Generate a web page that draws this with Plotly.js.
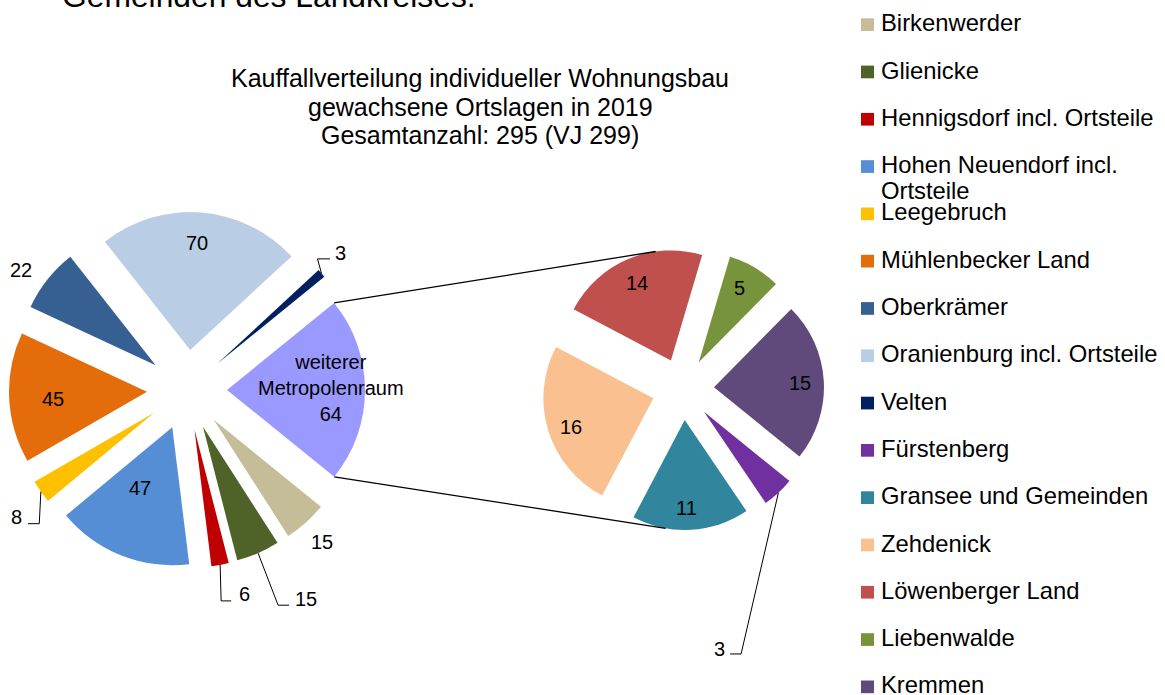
<!DOCTYPE html>
<html>
<head>
<meta charset="utf-8">
<script src="https://cdn.plot.ly/plotly-3.0.1.min.js"></script>
<style>html,body{margin:0;padding:0;background:#fff;}#chart{width:1165px;height:695px;}</style>
</head>
<body>
<div id="chart"></div>
<script>
// ---------------- data ----------------
const mainLabels = ["Birkenwerder", "Glienicke", "Hennigsdorf incl. Ortsteile", "Hohen Neuendorf incl. Ortsteile",
  "Leegebruch", "Mühlenbecker Land", "Oberkrämer", "Oranienburg incl. Ortsteile", "Velten", "weiterer Metropolenraum"];
const mainValues = [15, 15, 6, 47, 8, 45, 22, 70, 3, 64];
const subLabels = ["Fürstenberg", "Gransee und Gemeinden", "Zehdenick", "Löwenberger Land", "Liebenwalde", "Kremmen"];
const subValues = [3, 11, 16, 14, 5, 15];
const titleLines = ["Kauffallverteilung individueller Wohnungsbau", "gewachsene Ortslagen in 2019", "Gesamtanzahl: 295 (VJ 299)"];
const headerText = "Gemeinden des Landkreises.";

// ---------------- styles ----------------
const mainColors = ["#C4BD97", "#4F6228", "#C00000", "#558ED5", "#FFC000", "#E46C0A", "#376092", "#B9CDE5", "#002060", "#9999FF"];
const subColors = ["#7030A0", "#31859C", "#FAC090", "#C0504D", "#77933C", "#604A7B"];
const FONT = "Liberation Sans, Arial, sans-serif";
const W = 1165, H = 695;
const LABEL_SIZE = 20, LEGEND_SIZE = 23.8, TITLE_SIZE = 25;

// pie geometry (pixels)
const G1 = {cx: 187, cy: 390, r: 138, pull: 0.29, rot: 129};
const G2 = {cx: 683, cy: 389, r: 110, pull: 0.282, rot: 129};

// label placement specs
const mainLabelPos = [
  {type: 'out', dx: 16, dy: 19},
  {type: 'lead', dx: 48, dy: 46, ex: 20, ey: 6, hx: -17},
  {type: 'lead', dx: 24, dy: 29, ex: 1, ey: 7, hx: -13},
  {type: 'in', rho: 0.5, da: 6.5},
  {type: 'lead', dx: -24, dy: 25, ex: -1.6, ey: 7, hx: 11},
  {type: 'in', rho: 0.68, da: -2},
  {type: 'out', dx: -26, dy: -9},
  {type: 'in', rho: 0.78, da: -0.8},
  {type: 'lead', dx: 19.5, dy: -20.5, ex: -4, ey: 6, hx: -11},
  {type: 'in', rho: 0.75, da: -1}
];
const subLabelPos = [
  {type: 'lead', dx: -59, dy: 156.4, ex: -37.3, ey: 4.7, hx: 10.7},
  {type: 'in', rho: 0.8, da: 2},
  {type: 'in', rho: 0.79, da: -2},
  {type: 'in', rho: 0.77, da: -1},
  {type: 'in', rho: 0.77, da: -2},
  {type: 'in', rho: 0.78, da: 0}
];
const connectorAngles = [352, 190];
const titleCenter = {x: 480, y: [78.5, 106.7, 135]};

// ---------------- helpers ----------------
const px2x = x => x / W, px2y = y => 1 - y / H;
function sliceAngles(values, rot) {
  const tot = values.reduce((a, b) => a + b, 0);
  let a = rot;
  return values.map(v => { const span = v / tot * 360; const s = {start: a, end: a + span, mid: a + span / 2}; a += span; return s; });
}
function dir(deg) { const t = deg * Math.PI / 180; return [Math.sin(t), -Math.cos(t)]; }
function pt(g, mid, angle, rho) {
  const d0 = dir(mid), d = dir(angle);
  return [g.cx + g.pull * g.r * d0[0] + rho * g.r * d[0], g.cy + g.pull * g.r * d0[1] + rho * g.r * d[1]];
}
function domainOf(g) {
  const ext = g.r * (1 + g.pull);
  return {x: [(g.cx - ext) / W, (g.cx + ext) / W], y: [1 - (g.cy + ext) / H, 1 - (g.cy - ext) / H]};
}
const annotations = [], shapes = [];
function addText(text, x, y, size, xanchor, yanchor) {
  annotations.push({text: text, x: px2x(x), y: px2y(y), xref: 'paper', yref: 'paper', showarrow: false,
    xanchor: xanchor || 'center', yanchor: yanchor || 'middle', align: 'center',
    font: {family: FONT, size: size, color: '#000'}});
}
function addPath(points, width) {
  const d = points.map((p, i) => (i ? 'L' : 'M') + px2x(p[0]).toFixed(5) + ',' + px2y(p[1]).toFixed(5)).join(' ');
  shapes.push({type: 'path', xref: 'paper', yref: 'paper', path: d, line: {color: '#000', width: width}, fillcolor: 'rgba(0,0,0,0)'});
}
function placeLabels(values, g, specs, textFn) {
  const ang = sliceAngles(values, g.rot);
  values.forEach((v, i) => {
    const s = specs[i], a = ang[i], txt = textFn(i);
    if (s.type === 'in') {
      const p = pt(g, a.mid, a.mid + (s.da || 0), s.rho);
      addText(txt, p[0], p[1], LABEL_SIZE);
    } else {
      const anc = pt(g, a.mid, a.mid, 1);
      const L = [anc[0] + s.dx, anc[1] + s.dy];
      addText(txt, L[0], L[1], LABEL_SIZE);
      if (s.type === 'lead') addPath([anc, [anc[0] + s.ex, L[1] + s.ey], [L[0] + s.hx, L[1] + s.ey]], 1);
    }
  });
}

// ---------------- traces ----------------
const traces = [
  {type: 'pie', labels: mainLabels, values: mainValues, sort: false, direction: 'clockwise', rotation: G1.rot,
   pull: mainValues.map(() => G1.pull), marker: {colors: mainColors, line: {width: 0}},
   textinfo: 'none', hoverinfo: 'label+value', showlegend: false, domain: domainOf(G1)},
  {type: 'pie', labels: subLabels, values: subValues, sort: false, direction: 'clockwise', rotation: G2.rot,
   pull: subValues.map(() => G2.pull), marker: {colors: subColors, line: {width: 0}},
   textinfo: 'none', hoverinfo: 'label+value', showlegend: false, domain: domainOf(G2)}
];

// ---------------- labels ----------------
const lastMain = mainLabels.length - 1;
placeLabels(mainValues, G1, mainLabelPos, i => i === lastMain ? mainLabels[i].split(' ').join('<br>') + '<br>' + mainValues[i] : String(mainValues[i]));
placeLabels(subValues, G2, subLabelPos, i => String(subValues[i]));

// connector lines between the two pies
(function () {
  const a1 = sliceAngles(mainValues, G1.rot)[lastMain];
  const top = pt(G1, a1.mid, a1.start, 1), bot = pt(G1, a1.mid, a1.end, 1);
  const a2 = sliceAngles(subValues, G2.rot);
  function onSub(angle) {
    for (const s of a2) {
      for (const k of [0, 360, -360]) if (angle + k >= s.start && angle + k <= s.end) return pt(G2, s.mid, angle, 1);
    }
    return [G2.cx, G2.cy];
  }
  addPath([top, onSub(connectorAngles[0])], 1.3);
  addPath([bot, onSub(connectorAngles[1])], 1.3);
})();

// ---------------- legend (manual) ----------------
const legendNames = mainLabels.slice(0, lastMain).concat(subLabels);
const legendColors = mainColors.slice(0, lastMain).concat(subColors);
legendNames.forEach((name, i) => {
  const y = 22.7 + 47.3 * i;
  shapes.push({type: 'rect', xref: 'paper', yref: 'paper', x0: px2x(861), x1: px2x(874), y0: px2y(18.3 + 47.3 * i), y1: px2y(31 + 47.3 * i),
    fillcolor: legendColors[i], line: {width: 0}});
  let lines = [name];
  if (name.length > 28) { const k = name.lastIndexOf(' '); lines = [name.slice(0, k), name.slice(k + 1)]; }
  lines.forEach((ln, j) => addText(ln, 879, y + 26 * j, LEGEND_SIZE, 'left', 'middle'));
});

// chart title (three lines, Excel-like tight spacing)
titleLines.forEach((ln, j) => addText(ln, titleCenter.x, titleCenter.y[j], TITLE_SIZE, 'center', 'middle'));

// header text (cut off at top)
addText(headerText, 60, -4, 31.8, 'left', 'middle');

const layout = {
  width: W, height: H, autosize: false,
  margin: {l: 0, r: 0, t: 0, b: 0},
  paper_bgcolor: '#fff', plot_bgcolor: '#fff',
  showlegend: false,
  annotations: annotations, shapes: shapes,
  font: {family: FONT}
};
Plotly.newPlot('chart', traces, layout, {displayModeBar: false, staticPlot: true});
</script>
</body>
</html>
